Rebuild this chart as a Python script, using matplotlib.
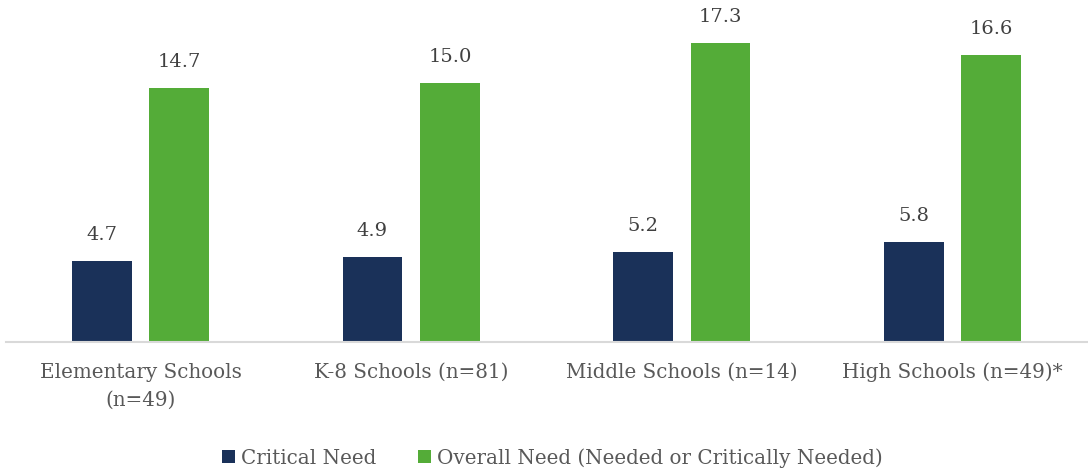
import matplotlib.pyplot as plt
import numpy as np

categories = ["Elementary Schools\n(n=49)", "K-8 Schools (n=81)", "Middle Schools (n=14)", "High Schools (n=49)*"]
critical_need = [4.7, 4.9, 5.2, 5.8]
overall_need = [14.7, 15.0, 17.3, 16.6]
series_names = ["Critical Need", "Overall Need (Needed or Critically Needed)"]

navy = "#1A3159"
green = "#54AC38"

plt.rcParams["font.family"] = ["DejaVu Serif"]

fig = plt.figure(figsize=(10.88, 4.72), dpi=100)
ax = fig.add_axes([5.5 / 1088, 1 - 342 / 472, 1 - 5.5 / 1088, (342 - 13.7) / 472])

x = np.arange(len(categories))
w = 0.221
b1 = ax.bar(x - 0.144, critical_need, w, color=navy, label=series_names[0])
b2 = ax.bar(x + 0.142, overall_need, w, color=green, label=series_names[1])

# value labels above bars
for bars, vals in ((b1, critical_need), (b2, overall_need)):
    for r, v in zip(bars, vals):
        ax.text(r.get_x() + r.get_width() / 2, v + 1.5, f"{v:.1f}", ha="center", va="center",
                fontsize=14, color="#404040")

ax.set_xlim(-0.5, 3.5)
ax.set_ylim(0, 19)
ax.set_yticks([])
ax.set_xticks(x)
ax.set_xticklabels(categories, fontsize=14.3, color="#595959", linespacing=1.62)
ax.tick_params(axis="x", length=0, pad=15)
for s in ("top", "right", "left"):
    ax.spines[s].set_visible(False)
ax.spines["bottom"].set_color("#D9D9D9")
ax.spines["bottom"].set_linewidth(1.5)

fig.legend(handles=[b1, b2], loc="center", bbox_to_anchor=(0.508, 1 - 458 / 472), ncol=2,
           frameon=False, fontsize=14.3, labelcolor="#595959", handlelength=0.65, handleheight=0.65,
           handletextpad=0.3, columnspacing=2.1)

fig.savefig("out.png", dpi=100)
